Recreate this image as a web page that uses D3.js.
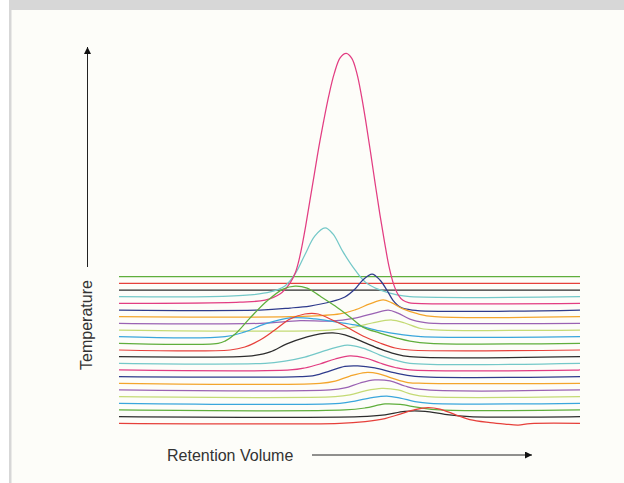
<!DOCTYPE html>
<html><head><meta charset="utf-8">
<script src="https://cdn.jsdelivr.net/npm/d3@7"></script>
<style>html,body{margin:0;padding:0;background:#fff;}svg{display:block;}</style>
</head><body>
<script>
// Temperature steps (bottom = lowest), each with its colour and chromatogram key points [retention volume, signal]
const temperatureSteps = d3.range(1, 24);
const traceColors = ["#e6403b","#2d2d2d","#5fae3c","#3aa6dc","#c4da74","#9a62b3","#f3a52c","#2f3b8c","#e23d82","#74c8c8",
                     "#2d2d2d","#e6403b","#5fae3c","#3aa6dc","#c4da74","#9a62b3","#f3a52c","#2f3b8c","#e23d82","#74c8c8",
                     "#2d2d2d","#e6403b","#5fae3c"];
const t01 = [[0,0],[47.9,0],[53.4,0.7],[57.7,1.9],[61.0,3.7],[64.2,5.5],[67.0,6.3],[69.6,5.7],[72.9,3.5],[76.1,1.5],[80.5,0.3],[83.7,-0.3],[86.6,-0.7],[89.2,-0.1],[100,0]];
const t02 = [[0,0],[52.3,0],[57.7,0.7],[62.0,2.1],[66.4,2.1],[70.7,0.9],[76.1,0],[100,0]];
const t03 = [[0,0],[49.0,0],[53.4,0.8],[57.7,2.4],[61.0,2.2],[64.9,1.0],[69.6,0],[100,0]];
const t04 = [[0,0],[47.9,0],[51.2,0.9],[54.9,2.3],[58.1,2.9],[61.0,2.1],[64.2,0.7],[67.5,0],[100,0]];
const t05 = [[0,0],[46.9,0],[50.1,0.7],[53.4,2.3],[57.0,3.3],[60.5,2.7],[63.6,0.9],[67.0,0],[100,0]];
const t06 = [[0,0],[45.8,0],[49.0,0.8],[52.3,2.8],[55.5,4.0],[58.8,3.6],[62.0,1.6],[65.5,0.2],[100,0]];
const t07 = [[0,0],[43.6,0],[46.9,0.9],[50.1,2.9],[53.4,4.3],[56.2,3.9],[59.2,2.1],[62.7,0.3],[66.4,0],[100,0]];
const t08 = [[0,0],[39.3,0],[42.5,0.5],[45.8,2.3],[49.0,4.1],[51.8,4.3],[55.5,3.5],[59.9,1.5],[64.2,0.1],[100,0]];
const t09 = [[0,0],[37.1,0],[40.3,0.8],[43.6,2.4],[46.9,4.4],[50.1,5.6],[53.4,4.8],[56.6,2.8],[59.9,1.0],[63.1,0],[100,0]];
const t10 = [[0,0],[31.7,0],[36.0,0.9],[40.3,2.5],[45.1,5.3],[49.5,7.3],[52.9,6.1],[56.6,3.3],[59.9,1.3],[63.1,0],[100,0]];
const t11 = [[0,0],[26.2,0],[29.5,0.5],[32.8,1.9],[36.4,5.1],[40.8,7.9],[43.6,9.1],[46.4,9.5],[49.0,8.7],[52.9,5.9],[56.6,3.1],[59.9,1.1],[63.1,0],[100,0]];
const t12 = [[0,0],[24.1,0],[27.3,1.2],[30.6,4.0],[33.8,8.0],[37.1,12.4],[40.3,14.4],[43.2,14.4],[45.8,12.4],[49.0,9.6],[52.9,5.6],[56.6,2.8],[59.9,0.8],[63.1,0],[100,0]];
const t13 = [[0,0],[21.5,0],[23.0,0.9],[25.2,3.7],[28.4,10.1],[32.1,16.9],[35.6,21.7],[38.2,22.9],[40.8,22.1],[43.6,18.9],[46.9,14.9],[50.1,10.5],[52.9,6.5],[56.6,4.1],[60.3,2.1],[63.1,0.9],[67.5,0],[100,0]];
const t14 = [[0,0],[23.0,0],[27.3,1.9],[31.7,5.1],[37.1,7.5],[42.5,7.1],[46.9,5.9],[51.2,4.7],[56.6,2.3],[61.0,0.9],[65.5,0],[100,0]];
const t15 = [[0,0],[45.8,0],[51.2,1.2],[54.9,2.8],[59.2,4.0],[62.0,2.8],[65.5,0.6],[69.6,0],[100,0]];
const t16 = [[0,0],[30.6,0],[39.3,1.1],[45.8,0.9],[51.2,2.1],[55.5,4.1],[58.4,5.3],[60.5,4.1],[63.1,1.7],[66.4,0.3],[68.5,0],[100,0]];
const t17 = [[0,0],[39.3,0.1],[47.9,1.1],[51.2,2.7],[54.4,5.1],[57.3,6.7],[59.2,5.5],[61.6,3.1],[64.9,1.1],[68.5,0],[100,0]];
const t18 = [[0,0],[30.6,0],[37.1,0.8],[41.4,1.6],[45.8,3.2],[49.0,5.2],[51.2,8.4],[52.9,12.0],[54.9,14.4],[56.6,12.0],[58.1,8.0],[59.4,4.0],[61.0,1.2],[63.6,0],[100,0]];
const t19 = [[0,0],[26.2,0.5],[31.7,1.3],[34.9,3.7],[37.1,8.1],[38.2,12],[39.0,17],[39.7,23],[40.5,31],[41.4,41],[42.4,52],[43.3,62],[44.3,72],[45.5,83],[46.7,92],[48.0,98.3],[49.3,100],[50.5,98],[51.6,92],[52.6,83],[53.6,72],[54.6,60],[55.6,47.5],[56.6,35.5],[57.6,24.5],[58.6,14.5],[59.6,7.5],[60.6,3.3],[61.6,1.2],[62.8,0.3],[64.2,0],[100,0]];
const t20 = [[0,0],[19.7,0],[28.4,0.7],[32.8,1.9],[36.0,4.3],[38.2,9.1],[40.3,16.7],[42.5,24.3],[44.7,27.5],[46.4,25.1],[48.6,17.9],[51.2,10.7],[53.4,5.9],[56.6,2.7],[60.3,0.7],[63.1,0],[100,0]];
const t21 = [[0,0],[100,0]];
const t22 = [[0,0],[100,0]];
const t23 = [[0,0],[100,0]];
const traces = [t01,t02,t03,t04,t05,t06,t07,t08,t09,t10,t11,t12,t13,t14,t15,t16,t17,t18,t19,t20,t21,t22,t23];
const xAxisLabel = "Retention Volume";
const yAxisLabel = "Temperature";

const W = 624, H = 483;
const svg = d3.select("body").append("svg").attr("width", W).attr("height", H);
// frame
svg.append("rect").attr("x",0).attr("y",0).attr("width",W).attr("height",H).attr("fill","#ffffff");
svg.append("rect").attr("x",9).attr("y",0).attr("width",W-9).attr("height",H).attr("fill","#d7d7d7");
svg.append("rect").attr("x",11.5).attr("y",10).attr("width",W-11.5).attr("height",H-10).attr("fill","#fdfdf9");

const x = d3.scaleLinear().domain([0,100]).range([119,580]);
const base = d3.scaleLinear().domain([1,23]).range([423.3,276.7]);
const amp = d3.scaleLinear().domain([0,100]).range([0,250]);

const g = svg.append("g");
const order = d3.range(traces.length).reverse();
order.forEach(i => {
  const T = temperatureSteps[i];
  const line = d3.line()
    .x(d => x(d[0]))
    .y(d => base(T) - amp(d[1]))
    .curve(d3.curveCatmullRom.alpha(0.5));
  g.append("path").datum(traces[i])
    .attr("d", line)
    .attr("fill","none")
    .attr("stroke", traceColors[i])
    .attr("stroke-width", 1.25)
    .attr("stroke-linejoin","round");
});

// axis arrows
const defs = svg.append("defs");
defs.append("marker").attr("id","arr").attr("viewBox","0 0 10 10").attr("refX",10).attr("refY",5)
  .attr("markerWidth",11).attr("markerHeight",7).attr("markerUnits","userSpaceOnUse").attr("orient","auto")
  .append("path").attr("d","M0,0L10,5L0,10Z").attr("fill","#111");
svg.append("line").attr("x1",312).attr("y1",455).attr("x2",532).attr("y2",455)
  .attr("stroke","#222").attr("stroke-width",1).attr("marker-end","url(#arr)");
svg.append("line").attr("x1",87.5).attr("y1",267).attr("x2",87.5).attr("y2",47)
  .attr("stroke","#222").attr("stroke-width",1).attr("marker-end","url(#arr)");

svg.append("text").attr("x",167).attr("y",461).text(xAxisLabel)
  .attr("font-family","Liberation Sans, Arial, sans-serif").attr("font-size",16).attr("fill","#333");
svg.append("text").attr("transform","translate(92,325) rotate(-90)").attr("text-anchor","middle").text(yAxisLabel)
  .attr("font-family","Liberation Sans, Arial, sans-serif").attr("font-size",16).attr("fill","#333");
</script>
</body></html>
